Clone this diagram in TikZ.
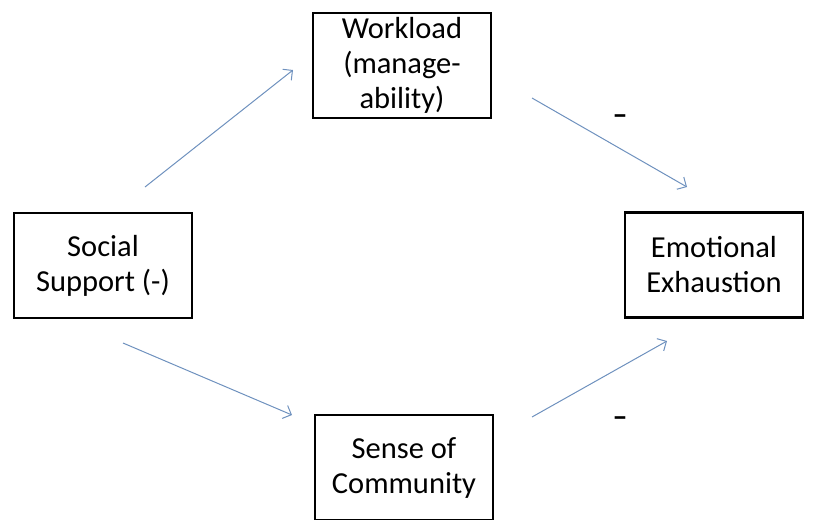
\documentclass[tikz,border=0pt]{standalone}
\usepackage{fontspec}
\setmainfont{Carlito}
\usetikzlibrary{arrows.meta}
\definecolor{arrowblue}{RGB}{110,145,190}
\begin{document}
\begin{tikzpicture}
          [x=1pt,y=-1pt,
           box/.style={draw,line width=2.8pt,minimum width=178pt,minimum height=105pt,
             inner sep=0pt,align=center,font=\fontsize{30.5}{35}\selectfont},
           link/.style={draw=arrowblue,line width=1pt,-{Straight Barb[length=7pt,width=14pt]}},
           sign/.style={font=\fontsize{30}{35}\selectfont\bfseries}]
          \useasboundingbox (0,0) rectangle (815,520);

          \node[box] (wl) at (402,65.5)  {Workload\\(manage-\\ability)};
          \node[box] (ss) at (103,265.5) {Social\\Support (-)};
          \node[box] (ee) at (714,265)   {Emotional\\Exhaustion};
          \node[box] (sc) at (404,467.5) {Sense of\\Community};

          \coordinate (ss1) at (145,187);
          \coordinate (wl1) at (293,70);
          \coordinate (wl2) at (532,98);
          \coordinate (ee1) at (687,187);
          \coordinate (ss2) at (123,343);
          \coordinate (sc1) at (292,415);
          \coordinate (sc2) at (532,417);
          \coordinate (ee2) at (667,341);

          \foreach \from/\to in {ss1/wl1,wl2/ee1,ss2/sc1,sc2/ee2}
            \draw[link] (\from) -- (\to);

          \node[sign] (m1) at (620,120) {--};
          \node[sign] (m2) at (620,422) {--};

        \end{tikzpicture}
\end{document}
